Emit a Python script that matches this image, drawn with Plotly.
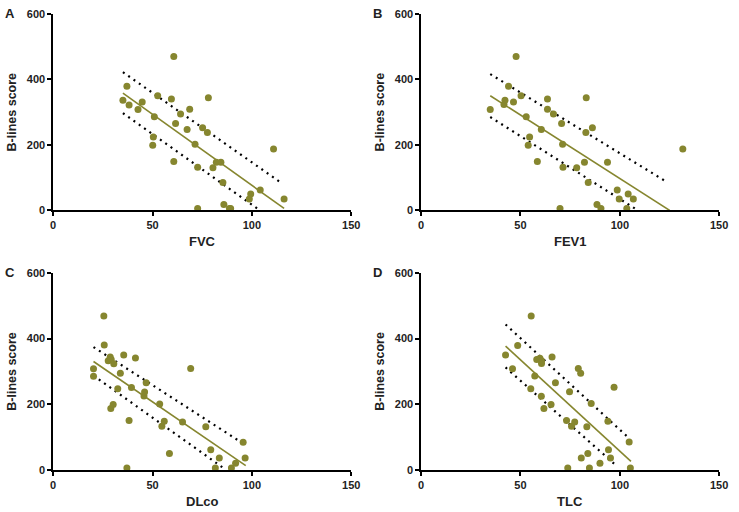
import plotly.graph_objects as go

# ---------------- data ----------------
fvc_x = [35.1, 37.1, 38.2, 42.7, 44.8, 50.1, 50.4, 50.9, 52.6, 59.5, 60.7, 60.7, 61.6, 64.1, 67.4, 68.7, 71.4,
         72.7, 72.7, 75.2, 77.6, 78.1, 80.4, 82.1, 84.4, 85.4, 85.9, 88.7, 89.3, 98.7, 99.4, 104.2, 110.9, 116.2]
fvc_y = [336, 379, 322, 308, 331, 199, 224, 286, 350, 340, 470, 149, 265, 294, 247, 309, 202,
         132, 6, 252, 238, 344, 130, 147, 147, 85, 18, 6, 6, 35, 50, 62, 187, 35]

fev1_x = [34.8, 41.7, 42.2, 44.0, 46.5, 47.8, 50.3, 52.9, 53.9, 54.6, 58.5, 60.5, 63.6, 63.6, 66.6, 69.9, 70.7,
          71.2, 71.4, 78.3, 82.2, 82.9, 83.1, 84.1, 86.2, 88.5, 90.5, 93.8, 98.7, 99.7, 103.5, 104.2, 106.8, 131.7]
fev1_y = [308, 323, 336, 379, 331, 470, 350, 286, 199, 224, 149, 247, 340, 309, 294, 6, 265,
          202, 132, 130, 147, 238, 344, 85, 252, 18, 6, 147, 62, 35, 6, 50, 35, 187]

dlco_x = [20.3, 20.3, 25.5, 25.7, 27.7, 28.7, 29.2, 30.5, 33.8, 35.5, 32.5, 29.0, 30.2, 38.2, 37.1, 39.4, 41.4,
          45.7, 46.0, 46.8, 53.6, 54.7, 55.9, 58.5, 65.1, 69.2, 76.8, 79.3, 81.6, 83.6, 89.7, 91.8, 95.6, 96.6]
dlco_y = [308, 285, 469, 380, 332, 344, 336, 323, 294, 350, 247, 187, 199, 150, 6, 251, 341,
          225, 237, 265, 201, 133, 148, 50, 146, 309, 131, 61, 6, 36, 6, 20, 84, 36]

tlc_x = [42.5, 46.0, 48.6, 55.4, 55.2, 57.2, 58.2, 59.8, 60.6, 60.6, 60.5, 61.8, 65.4, 65.9, 67.6, 73.2, 73.8,
         74.7, 75.7, 77.3, 79.1, 80.3, 80.6, 83.4, 83.9, 84.7, 85.6, 90.0, 94.0, 94.3, 95.3, 97.1, 104.7, 105.3]
tlc_y = [350, 308, 379, 469, 247, 286, 336, 340, 332, 324, 224, 187, 199, 344, 265, 150, 6,
         238, 133, 146, 309, 294, 36, 131, 50, 6, 202, 20, 148, 61, 36, 252, 85, 6]

# regression lines and 95% confidence bands (start/end)
fit_x = {"A": [35.1, 116.2], "B": [34.8, 125.1], "C": [20.3, 96.9], "D": [42.5, 105.6]}
fit_y = {"A": [358, 6], "B": [350, 0], "C": [330, 13], "D": [377, 26]}
upper_x = {"A": [35.1, 115.0], "B": [34.8, 124.1], "C": [20.3, 96.4], "D": [42.5, 104.7]}
upper_y = {"A": [422, 83], "B": [416, 85], "C": [374, 77], "D": [443, 96]}
lower_x = {"A": [35.1, 103.8], "B": [34.8, 108.3], "C": [20.3, 86.5], "D": [42.5, 98.4]}
lower_y = {"A": [297, 1], "B": [285, 3], "C": [287, 2], "D": [312, 12]}

panel_labels = ["A", "B", "C", "D"]
x_titles = ["FVC", "FEV1", "DLco", "TLC"]
y_title = "B-lines score"
x_ticks = [0, 50, 100, 150]
y_ticks = [0, 200, 400, 600]

# ---------------- style ----------------
W, H = 739, 512
OLIVE = "#86862f"
FONT = "Liberation Sans, Arial, sans-serif"

xs = [fvc_x, fev1_x, dlco_x, tlc_x]
ys = [fvc_y, fev1_y, dlco_y, tlc_y]

# pixel boxes (left, right, top, bottom)
boxes = [(51, 354, 8, 209.3), (425, 728, 8, 209.3), (51, 354, 273.3, 475), (425, 728, 273.3, 475)]

fig = go.Figure()
annotations = []
for i, lab in enumerate(panel_labels):
    xa = "x" if i == 0 else f"x{i+1}"
    ya = "y" if i == 0 else f"y{i+1}"
    l, r, t, b = boxes[i]
    # bands
    for bx, by in ((upper_x[lab], upper_y[lab]), (lower_x[lab], lower_y[lab])):
        fig.add_trace(go.Scatter(x=bx, y=by, mode="lines", xaxis=xa, yaxis=ya,
                                 line=dict(color="black", width=2.2, dash="2px,4.5px"),
                                 showlegend=False, hoverinfo="skip", cliponaxis=False))
    fig.add_trace(go.Scatter(x=fit_x[lab], y=fit_y[lab], mode="lines", xaxis=xa, yaxis=ya,
                             line=dict(color=OLIVE, width=1.6), showlegend=False, cliponaxis=False))
    fig.add_trace(go.Scatter(x=xs[i], y=ys[i], mode="markers", xaxis=xa, yaxis=ya,
                             marker=dict(color=OLIVE, size=7, line=dict(width=0)),
                             showlegend=False, cliponaxis=False))
    axis_common = dict(showline=True, linecolor="black", linewidth=1.5, ticks="outside",
                       ticklen=4, tickwidth=1.5, tickcolor="black", showgrid=False, zeroline=False,
                       tickfont=dict(family=FONT, size=11, color="#222", weight="bold"))
    fig.layout[("xaxis" if i == 0 else f"xaxis{i+1}")] = dict(
        domain=[l / W, r / W], range=[0, 150], tickvals=x_ticks, anchor=ya, **axis_common)
    fig.layout[("yaxis" if i == 0 else f"yaxis{i+1}")] = dict(
        domain=[1 - b / H, 1 - t / H], range=[0, 600], tickvals=y_ticks, anchor=xa, **axis_common)
    cx = (l + r) / 2
    cy = (t + b) / 2
    annotations.append(dict(text=x_titles[i], x=cx / W, y=1 - (b + 32) / H, xref="paper", yref="paper",
                            showarrow=False, xanchor="center", yanchor="middle",
                            font=dict(family=FONT, size=13, color="#222", weight="bold")))
    annotations.append(dict(text=y_title, x=(l - 41.5) / W, y=1 - cy / H, xref="paper", yref="paper",
                            showarrow=False, xanchor="center", yanchor="middle", textangle=-90,
                            font=dict(family=FONT, size=12.5, color="#222", weight="bold")))
    annotations.append(dict(text=lab, x=(l - 44) / W, y=1 - (t - 0.5) / H, xref="paper", yref="paper",
                            showarrow=False, xanchor="center", yanchor="middle",
                            font=dict(family=FONT, size=13, color="#222", weight="bold")))

fig.update_layout(width=W, height=H, autosize=False, margin=dict(l=0, r=0, t=0, b=0),
                  paper_bgcolor="white", plot_bgcolor="white", annotations=annotations)

fig.write_html("out.html", config={"displayModeBar": False},
               post_script="document.body.style.margin='0';document.body.style.overflow='hidden';")
